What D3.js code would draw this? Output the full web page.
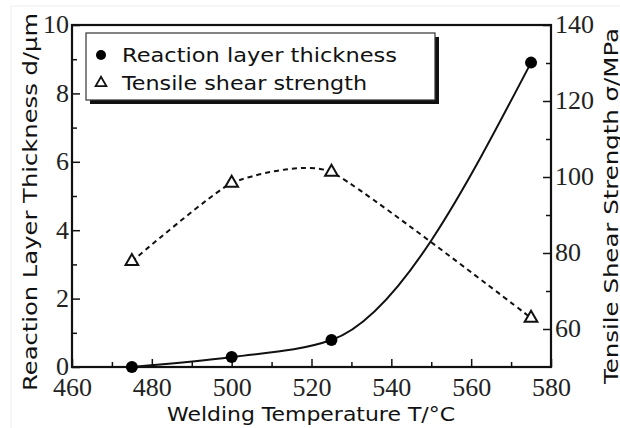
<!DOCTYPE html>
<html>
<head>
<meta charset="utf-8" />
<title>Reaction layer / shear strength</title>
<script src="https://d3js.org/d3.v7.min.js"></script>
<style>
  body { margin: 0; background: #fff; }
</style>
</head>
<body>
<svg width="620" height="428" id="svg1"></svg>
<script>
// data
var temps = [475, 500, 525, 575];
var thickness = [0, 0.29, 0.79, 8.9];
var strength = [77.8, 98.4, 101.3, 62.9];
var xTicks = [460, 480, 500, 520, 540, 560, 580];
var yLeftTicks = [0, 2, 4, 6, 8, 10];
var yRightTicks = [60, 80, 100, 120, 140];
var legendLabels = ["Reaction layer thickness", "Tensile shear strength"];

var svg = d3.select("#svg1");
var L = 72, R = 551, T = 25, B = 367;
var serif = "'Liberation Serif', 'Times New Roman', Times, serif";
var sans = "'DejaVu Sans', sans-serif";

var x = d3.scaleLinear().domain([460, 580]).range([L, R]);
var y1 = d3.scaleLinear().domain([0, 10]).range([B, T]);
var y2 = d3.scaleLinear().domain([50, 140]).range([B, T]);

// faint frame of the picture
svg.append("rect").attr("x", 11).attr("y", 6).attr("width", 640).attr("height", 440)
  .attr("fill", "none").attr("stroke", "#eee");

// axes - ticks point inward
var gx = svg.append("g").attr("transform", "translate(0," + B + ")");
gx.call(d3.axisTop(x).tickValues(d3.range(470, 580, 20)).tickSize(5).tickFormat(""));
var gx2 = svg.append("g").attr("transform", "translate(0," + B + ")");
gx2.call(d3.axisTop(x).tickValues(xTicks).tickSize(8).tickFormat(d3.format("d")));
gx2.selectAll(".tick text").attr("y", 11).attr("dy", "0.71em");

var gl = svg.append("g").attr("transform", "translate(" + L + ",0)");
gl.call(d3.axisRight(y1).tickValues([1, 3, 5, 7, 9]).tickSize(5).tickFormat(""));
var gl2 = svg.append("g").attr("transform", "translate(" + L + ",0)");
gl2.call(d3.axisRight(y1).tickValues(yLeftTicks).tickSize(8).tickFormat(d3.format("d")));
gl2.selectAll(".tick text").attr("x", -3).attr("text-anchor", "end").attr("dy", "0.3em");

var gr = svg.append("g").attr("transform", "translate(" + R + ",0)");
gr.call(d3.axisLeft(y2).tickValues([70, 90, 110, 130]).tickSize(5).tickFormat(""));
var gr2 = svg.append("g").attr("transform", "translate(" + R + ",0)");
gr2.call(d3.axisLeft(y2).tickValues(yRightTicks).tickSize(8).tickFormat(d3.format("d")));
gr2.selectAll(".tick text").attr("x", 4).attr("text-anchor", "start").attr("dy", "0.3em");

svg.selectAll(".domain").remove();
svg.selectAll(".tick line").attr("stroke", "#111").attr("stroke-width", 1.5);
svg.selectAll(".tick text").attr("font-family", serif).attr("font-size", 26).attr("fill", "#222");

// plot frame
svg.append("rect").attr("x", L).attr("y", T).attr("width", R - L).attr("height", B - T)
  .attr("fill", "none").attr("stroke", "#111").attr("stroke-width", 2.2);

// curves
var pts1 = temps.map(function(t, i) { return [x(t), y1(thickness[i])]; });
var pts2 = temps.map(function(t, i) { return [x(t), y2(strength[i])]; });

svg.append("path").attr("d", d3.line().curve(d3.curveCardinal.tension(0.5))(pts2))
  .attr("fill", "none").attr("stroke", "#111").attr("stroke-width", 2)
  .attr("stroke-dasharray", "5,4");
svg.append("path").attr("d", d3.line().curve(d3.curveMonotoneX)(pts1))
  .attr("fill", "none").attr("stroke", "#111").attr("stroke-width", 2);

svg.selectAll("circle.pt").data(pts1).enter().append("circle").attr("class", "pt")
  .attr("cx", function(d) { return d[0]; }).attr("cy", function(d) { return d[1]; })
  .attr("r", 6).attr("fill", "#000");

var tri = d3.symbol().type(d3.symbolTriangle).size(70);
svg.selectAll("path.tri").data(pts2).enter().append("path").attr("class", "tri")
  .attr("transform", function(d) { return "translate(" + d[0] + "," + d[1] + ")"; })
  .attr("d", tri).attr("fill", "#fff").attr("stroke", "#111").attr("stroke-width", 2);

// legend
var lg = svg.append("g");
lg.append("rect").attr("x", 90).attr("y", 37).attr("width", 349).attr("height", 67).attr("fill", "#111");
lg.append("rect").attr("x", 86).attr("y", 33).attr("width", 349).attr("height", 67)
  .attr("fill", "#fff").attr("stroke", "#333").attr("stroke-width", 1.2);
lg.append("circle").attr("cx", 101).attr("cy", 55).attr("r", 5).attr("fill", "#000");
lg.append("path").attr("transform", "translate(101,83)")
  .attr("d", d3.symbol().type(d3.symbolTriangle).size(50)).attr("fill", "#fff")
  .attr("stroke", "#111").attr("stroke-width", 1.8);
lg.selectAll("text").data(legendLabels).enter().append("text")
  .attr("font-family", sans).attr("font-size", 20).attr("fill", "#111")
  .attr("x", 122).attr("y", function(d, i) { return 62 + i * 28; })
  .attr("textLength", function(d, i) { return i ? 245 : 275; })
  .attr("lengthAdjust", "spacingAndGlyphs")
  .text(function(d) { return d; });

// axis titles
function title(txt, tr, len) {
  svg.append("text").attr("transform", tr)
    .attr("font-family", sans).attr("font-size", 20).attr("fill", "#111")
    .attr("textLength", len).attr("lengthAdjust", "spacingAndGlyphs")
    .text(txt);
}
title("Welding Temperature  T/\u00b0C", "translate(167,421)", 288);
title("Reaction Layer Thickness  d/\u03bcm", "translate(37,391) rotate(-90)", 378);
title("Tensile Shear Strength  \u03c3/MPa", "translate(618,384) rotate(-90)", 356);
</script>
</body>
</html>
